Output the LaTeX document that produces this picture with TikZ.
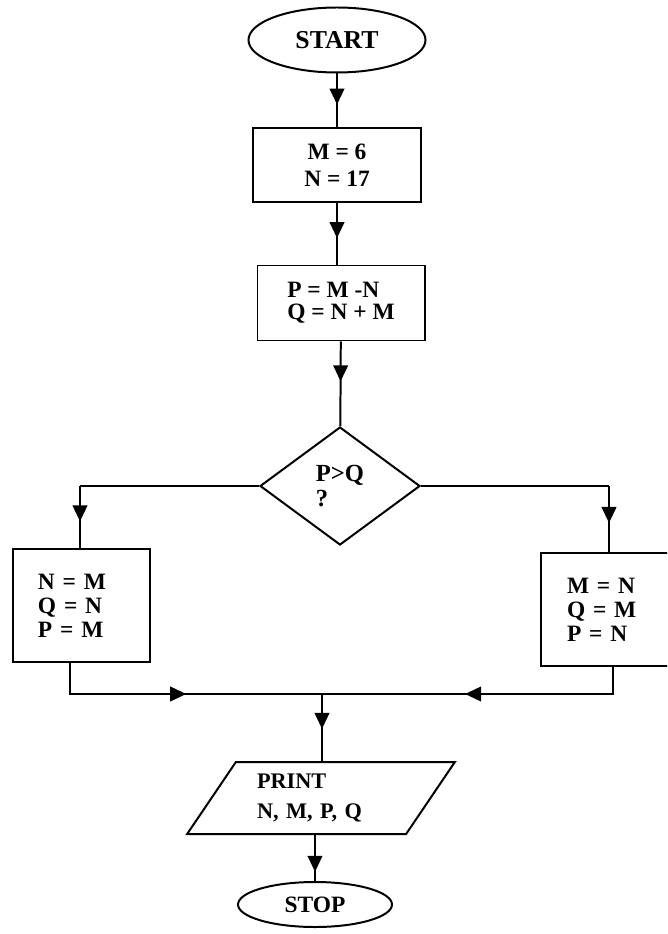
\documentclass[tikz,border=0pt]{standalone}
\usepackage{fontspec}
\setmainfont{Liberation Serif}
\usetikzlibrary{arrows.meta,shapes.geometric,decorations.markings,calc}

\begin{document}
\begin{tikzpicture}[
    x=0.03cm,y=-0.03cm,line width=1.7pt,
    terminal/.style={draw,ellipse,inner sep=0pt,font=\fontsize{20}{22}\selectfont\bfseries},
    process/.style={draw,inner sep=0pt,align=left,font=\fontsize{20}{20.5}\selectfont\bfseries},
    decision/.style={draw,diamond,inner sep=0pt,align=left,font=\fontsize{21}{21}\selectfont\bfseries},
    io/.style={draw,trapezium,trapezium stretches=true,inner sep=0pt,align=left,
      font=\fontsize{19}{26}\selectfont\bfseries},
    flow/.style={decoration={markings,mark=at position #1 with
      {\arrow{Triangle[length=4.8mm,width=4.4mm]}}},postaction={decorate}},
    flow/.default=0.55
  ]
    \useasboundingbox (0,0) rectangle (667,934);
    \clip (0,0) rectangle (667,934);
    % main column
    \node[terminal,minimum width=5.31cm,minimum height=1.95cm,font=\fontsize{22}{24}\selectfont\bfseries] (start) at (337,40) {START};
    \node[process,align=center,minimum width=5.04cm,minimum height=2.22cm,font=\fontsize{20}{23}\selectfont\bfseries] (init) at (337,165) {M = 6\\N = 17};
    \node[process,minimum width=5.01cm,minimum height=2.25cm,font=\fontsize{20}{18.5}\selectfont\bfseries] (diff) at (341,303) {P = M -N\\Q = N + M};
    \node[decision,minimum width=4.8cm,minimum height=3.54cm] (test) at (340,486) {P>Q\\?};
    % the two branches
    \node[process,minimum width=4.11cm,minimum height=3.39cm,text width=2.61cm] (swapl) at (81.5,605.5) {N = M\\Q = N\\P = M};
    \node[process,minimum width=3.93cm,minimum height=3.39cm,text width=2.37cm] (swapr) at (606.5,609.5) {M = N\\Q = M\\P = N};
    \coordinate (lturn) at (80,486);
    \coordinate (rturn) at (609,486);
    \coordinate (join) at (322,694);
    % output and end
    \node[io,minimum width=8.04cm,minimum height=2.16cm,trapezium left angle=53,trapezium right angle=127,
      text width=3.84cm] (print) at (321,798) {PRINT\\N, M, P, Q};
    \node[terminal,minimum width=4.62cm,minimum height=1.35cm] (stop) at (315,904.5) {STOP};
    \draw[flow=0.58] (start) -- (init);
    \draw[flow=0.57] (init) -- (init |- diff.north);
    \draw[flow=0.47] (diff) -- (test);
    \draw (test.west) -- (lturn);\draw[flow=0.57] (lturn) -- (lturn |- swapl.north);
    \draw (test.east) -- (rturn);\draw[flow=0.56] (rturn) -- (rturn |- swapr.north);
    \draw[flow=0.52] ($(swapl.south)+(-11.5,0)$) |- (join);
    \draw[flow=0.55] ($(swapr.south)+(6.5,0)$) |- (join);
    \draw[flow=0.52] (join) -- (join |- print.north);
    \draw[flow=0.8] (print.south -| stop.north) -- (stop.north);
  \end{tikzpicture}
\end{document}
